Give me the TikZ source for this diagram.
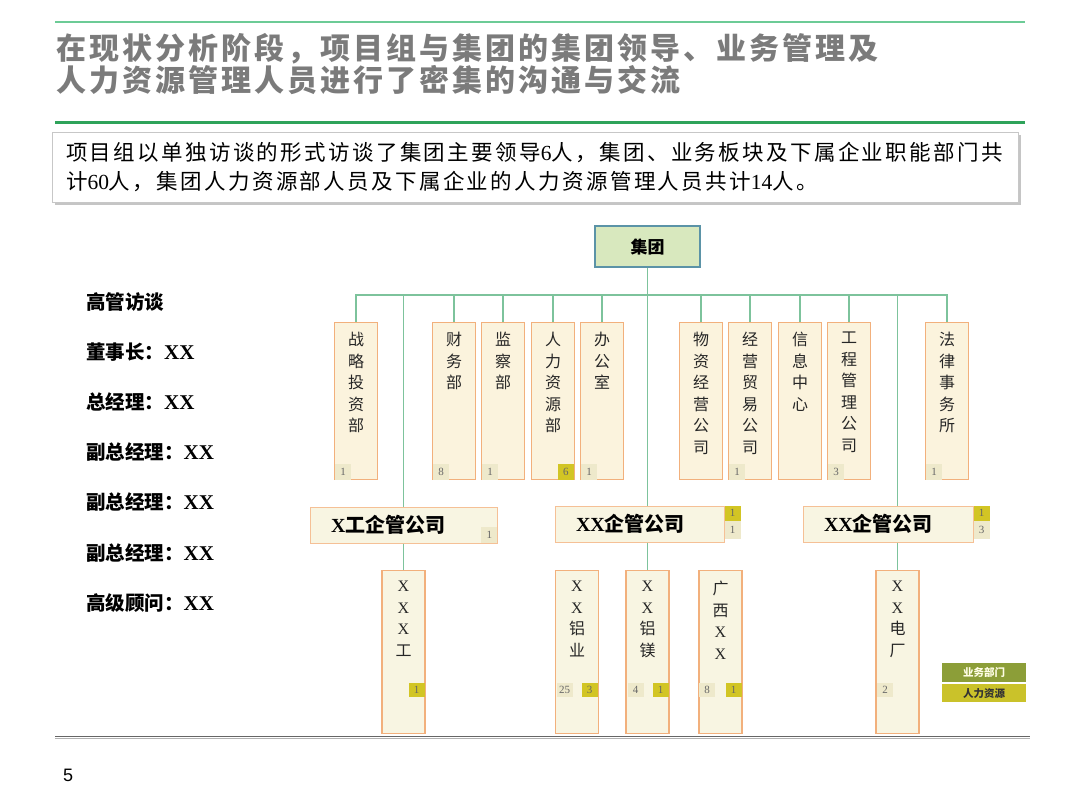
\documentclass[tikz,border=0pt]{standalone}
\usepackage{fontspec}
\setmainfont{Liberation Serif}
\newfontfamily\cjk{Noto Sans CJK SC}
\newfontfamily\pagefont{Liberation Sans}
\usetikzlibrary{positioning, shadows}
\definecolor{rulegreen}{HTML}{6CCB96}
\definecolor{rulegreendark}{HTML}{2EA35A}
\definecolor{linkgreen}{HTML}{7DC39C}
\definecolor{titlegray}{HTML}{7B7B7B}
\definecolor{boxorange}{HTML}{F2B07C}
\definecolor{deptcream}{HTML}{FBF3DD}
\definecolor{compcream}{HTML}{F8F5E2}
\definecolor{groupgreen}{HTML}{D8E8BE}
\definecolor{groupedge}{HTML}{5B93A7}
\definecolor{badgelight}{HTML}{EEE9CB}
\definecolor{badgeyellow}{HTML}{D2C524}
\definecolor{legendolive}{HTML}{8C9E38}
\definecolor{legendyellow}{HTML}{CAC22A}
\newcommand\lat[1]{{\rmfamily #1}}

\begin{document}
\begin{tikzpicture}[
        x=1pt,
        y=-1pt,
        link/.style={
            draw=linkgreen,
            line width=1.3pt
        },
        deptbox/.style={
            draw=boxorange,
            fill=deptcream,
            line width=1.1pt,
            minimum width=43pt,
            minimum height=157pt,
            inner sep=0pt,
            anchor=north
        },
        subbox/.style={
            draw=boxorange,
            fill=compcream,
            line width=1.1pt,
            minimum width=43pt,
            minimum height=163pt,
            inner sep=0pt,
            anchor=north
        },
        vtext/.style={
            anchor=north,
            align=center,
            inner sep=0pt,
            text=black!85,
            font=\cjk\fontsize{16}{21.5}\selectfont
        },
        compbox/.style={
            draw=boxorange!80,
            fill=compcream,
            line width=1pt,
            minimum height=36pt,
            inner ysep=0pt,
            inner xsep=21pt,
            align=left,
            font=\cjk\bfseries\fontsize{20}{22}\selectfont
        },
        badge/.style={
            fill=badgelight,
            minimum width=16pt,
            minimum height=16pt,
            inner sep=0pt,
            text=black!60,
            font=\fontsize{11}{11}\selectfont
        },
        badgehr/.style={
            badge,
            fill=badgeyellow
        },
        listitem/.style={
            anchor=west,
            inner sep=0pt,
            font=\cjk\bfseries\fontsize{19.5}{20}\selectfont
        },
        legendbox/.style={
            minimum width=84pt,
            inner sep=0pt,
            font=\cjk\bfseries\fontsize{10.5}{11}\selectfont
        }
    ]

        \useasboundingbox (0,0) rectangle (1080,810);

        % Titel og linjer
        \draw[rulegreen, line width=1.5pt]
            (55,22) -- (1025,22);
        \node[
            anchor=west,
            align=left,
            inner sep=0pt,
            text=titlegray,
            font=\cjk\bfseries\fontsize{30}{32}\selectfont\addfontfeatures{LetterSpace=10}
        ] (title) at (56,64)
            {在现状分析阶段，项目组与集团的集团领导、业务管理及\\人力资源管理人员进行了密集的沟通与交流};
        \draw[rulegreendark, line width=3pt]
            (55,123) -- (1025,123);

        % Indledende tekst
        \node[
            draw=black!22,
            fill=white,
            drop shadow={shadow xshift=3pt, shadow yshift=-3pt, fill=black!45},
            text width=938pt,
            inner xsep=14pt,
            minimum height=70pt,
            align=left,
            font=\cjk\fontsize{21.5}{29}\selectfont\addfontfeatures{LetterSpace=11}
        ] (intro) at (535,167)
            {项目组以单独访谈的形式访谈了集团主要领导\lat{6}人，集团、业务板块及下属企业职能部门共\\计\lat{60}人，集团人力资源部人员及下属企业的人力资源管理人员共计\lat{14}人。};

        % Venstre liste
        \node[listitem] (l1) at (86,302) {高管访谈};
        \node[listitem] (l2) at (86,352) {董事长：\lat{\fontsize{21}{21}\selectfont XX}};
        \node[listitem] (l3) at (86,402) {总经理：\lat{\fontsize{21}{21}\selectfont XX}};
        \node[listitem] (l4) at (86,452) {副总经理：\lat{\fontsize{21}{21}\selectfont XX}};
        \node[listitem] (l5) at (86,502) {副总经理：\lat{\fontsize{21}{21}\selectfont XX}};
        \node[listitem] (l6) at (86,553) {副总经理：\lat{\fontsize{21}{21}\selectfont XX}};
        \node[listitem] (l7) at (86,603) {高级顾问：\lat{\fontsize{21}{21}\selectfont XX}};

        % Koncern
        \node[
            draw=groupedge,
            fill=groupgreen,
            line width=1.5pt,
            minimum width=105pt,
            minimum height=41pt,
            font=\cjk\bfseries\fontsize{17}{17}\selectfont
        ] (jt) at (647.5,246.5)
            {集团};

        % Afdelinger
        \node[deptbox] (d1) at (356,322) {};
        \node[deptbox] (d2) at (454,322) {};
        \node[deptbox] (d3) at (503,322) {};
        \node[deptbox] (d4) at (553,322) {};
        \node[deptbox] (d5) at (602,322) {};
        \node[deptbox] (d6) at (701,322) {};
        \node[deptbox] (d7) at (750,322) {};
        \node[deptbox] (d8) at (800,322) {};
        \node[deptbox] (d9) at (849,322) {};
        \node[deptbox] (d10) at (947,322) {};

        \node[vtext] (d1t) at ([yshift=-10pt]d1.north) {战\\略\\投\\资\\部};
        \node[vtext] (d2t) at ([yshift=-10pt]d2.north) {财\\务\\部};
        \node[vtext] (d3t) at ([yshift=-10pt]d3.north) {监\\察\\部};
        \node[vtext] (d4t) at ([yshift=-10pt]d4.north) {人\\力\\资\\源\\部};
        \node[vtext] (d5t) at ([yshift=-10pt]d5.north) {办\\公\\室};
        \node[vtext] (d6t) at ([yshift=-10pt]d6.north) {物\\资\\经\\营\\公\\司};
        \node[vtext] (d7t) at ([yshift=-10pt]d7.north) {经\\营\\贸\\易\\公\\司};
        \node[vtext] (d8t) at ([yshift=-10pt]d8.north) {信\\息\\中\\心};
        \node[vtext] (d9t) at ([yshift=-10pt]d9.north) {工\\程\\管\\理\\公\\司};
        \node[vtext] (d10t) at ([yshift=-10pt]d10.north) {法\\律\\事\\务\\所};

        \node[badge, anchor=south west] (d1n) at ([xshift=1pt]d1.south west) {1};
        \node[badge, anchor=south west] (d2n) at ([xshift=1pt]d2.south west) {8};
        \node[badge, anchor=south west] (d3n) at ([xshift=1pt]d3.south west) {1};
        \node[badgehr, anchor=south east] (d4n) at ([xshift=-1pt]d4.south east) {6};
        \node[badge, anchor=south west] (d5n) at ([xshift=1pt]d5.south west) {1};
        \node[badge, anchor=south west] (d7n) at ([xshift=1pt]d7.south west) {1};
        \node[badge, anchor=south west] (d9n) at ([xshift=1pt]d9.south west) {3};
        \node[badge, anchor=south west] (d10n) at ([xshift=1pt]d10.south west) {1};

        % Selskaber
        \node[compbox, text width=145pt] (c1) at (403.5,525)
            {\lat{X}工企管公司};
        \node[compbox, text width=127pt] (c2) at (639.5,524)
            {\lat{XX}企管公司};
        \node[compbox, text width=128pt] (c3) at (888,524)
            {\lat{XX}企管公司};

        \node[badge, anchor=south east] (c1n) at (c1.south east) {1};
        \node[badgehr, anchor=north west, minimum height=15pt] (c2h) at (c2.north east) {1};
        \node[badge, anchor=north west, minimum height=18pt] (c2n) at (c2h.south west) {1};
        \node[badgehr, anchor=north west, minimum height=15pt] (c3h) at (c3.north east) {1};
        \node[badge, anchor=north west, minimum height=18pt] (c3n) at (c3h.south west) {3};

        % Datterselskaber
        \node[subbox] (s1) at (403.5,570) {};
        \node[subbox] (s2) at (577,570) {};
        \node[subbox] (s3) at (647.5,570) {};
        \node[subbox] (s4) at (720.5,570) {};
        \node[subbox] (s5) at (897.5,570) {};

        \node[vtext] (s1t) at ([yshift=-11pt]s1.north) {\lat{X}\\\lat{X}\\\lat{X}\\工};
        \node[vtext] (s2t) at ([yshift=-11pt]s2.north) {\lat{X}\\\lat{X}\\铝\\业};
        \node[vtext] (s3t) at ([yshift=-11pt]s3.north) {\lat{X}\\\lat{X}\\铝\\镁};
        \node[vtext] (s4t) at ([yshift=-11pt]s4.north) {广\\西\\\lat{X}\\\lat{X}};
        \node[vtext] (s5t) at ([yshift=-11pt]s5.north) {\lat{X}\\\lat{X}\\电\\厂};

        \node[badgehr, minimum height=14pt] (s1h) at (416.5,690) {1};
        \node[badge, minimum height=14pt] (s2n) at (564.5,690) {25};
        \node[badgehr, minimum height=14pt] (s2h) at (589.5,690) {3};
        \node[badge, minimum height=14pt] (s3n) at (635.5,690) {4};
        \node[badgehr, minimum height=14pt] (s3h) at (660.5,690) {1};
        \node[badge, minimum height=14pt] (s4n) at (707,690) {8};
        \node[badgehr, minimum height=14pt] (s4h) at (733.5,690) {1};
        \node[badge, minimum height=14pt] (s5n) at (885,690) {2};

        % Forbindelser
        \coordinate (bus) at (0,295);
        \draw[link] (d1.north) -- (d1.north |- bus) -- (d10.north |- bus) -- (d10.north);
        \draw[link] (d2.north) -- (d2.north |- bus);
        \draw[link] (d3.north) -- (d3.north |- bus);
        \draw[link] (d4.north) -- (d4.north |- bus);
        \draw[link] (d5.north) -- (d5.north |- bus);
        \draw[link] (d6.north) -- (d6.north |- bus);
        \draw[link] (d7.north) -- (d7.north |- bus);
        \draw[link] (d8.north) -- (d8.north |- bus);
        \draw[link] (d9.north) -- (d9.north |- bus);
        \draw[link] (jt.south) -- (jt.south |- c2.north);
        \draw[link] (c1.north |- bus) -- (c1.north);
        \draw[link] (s5.north |- bus) -- (s5.north |- c3.north);
        \draw[link] (c1.south) -- (s1.north);
        \draw[link] (s3.north |- c2.south) -- (s3.north);
        \draw[link] (s5.north |- c3.south) -- (s5.north);

        % Signatur
        \node[legendbox, fill=legendolive, text=white!90!yellow, minimum height=19pt] (lg1) at (984,672.5) {业务部门};
        \node[legendbox, fill=legendyellow, text=black!80, minimum height=18pt, below=2pt of lg1] (lg2) {人力资源};

        % Bundlinje og sidetal
        \draw[black!60, line width=1.5pt]
            (55,736.5) -- (1030,736.5);
        \draw[black!30, line width=1pt]
            (55,738.5) -- (1030,738.5);
        \node[
            anchor=west,
            inner sep=0pt,
            font=\pagefont\fontsize{18}{18}\selectfont
        ] (page) at (63,775)
            {5};

    \end{tikzpicture}
\end{document}
